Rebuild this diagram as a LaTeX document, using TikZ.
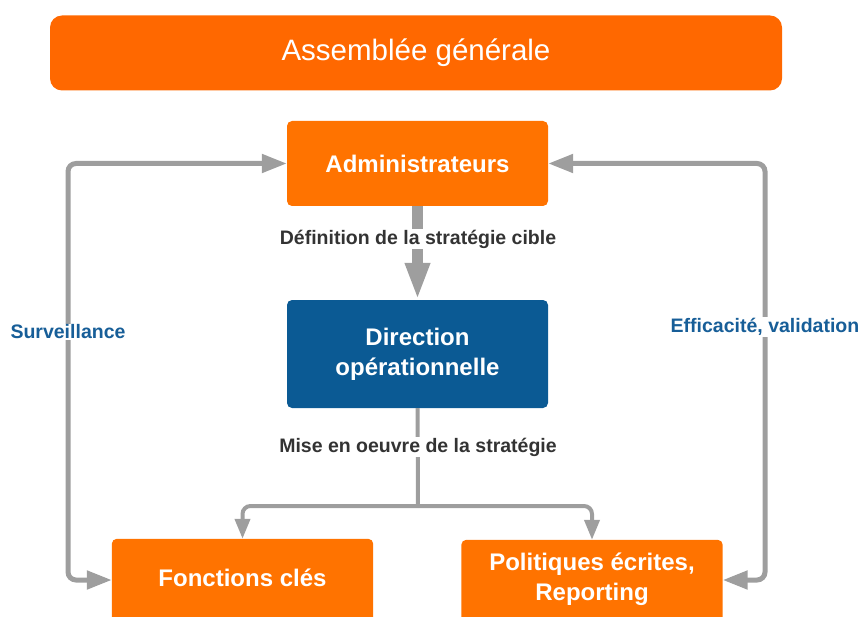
\documentclass[tikz,border=0pt]{standalone}
\usepackage{fontspec}
\setmainfont{Liberation Sans}
\usetikzlibrary{arrows.meta,backgrounds}
\definecolor{agorange}{HTML}{FF6800}
\definecolor{boxorange}{HTML}{FF7300}
\definecolor{dirblue}{HTML}{0B5A94}
\definecolor{lblblue}{HTML}{175E98}
\definecolor{linkgray}{HTML}{9E9E9E}
\definecolor{lbltext}{HTML}{333333}
\begin{document}
\begin{tikzpicture}[x=1pt,y=-1pt,line cap=butt,line join=miter,
		box/.style={fill=boxorange,text=white,rounded corners=5pt,minimum width=261pt,
			align=center,font=\bfseries\fontsize{24}{30}\selectfont},
		cutbox/.style={box,fill=none,minimum height=78pt},
		lbl/.style={fill=white,inner xsep=2pt,inner ysep=1pt,font=\bfseries\fontsize{19.5}{21}\selectfont},
		loopline/.style={draw=linkgray,line width=5pt,rounded corners=8pt,
			{Triangle[length=25pt,width=18pt]}-{Triangle[length=25pt,width=18pt]}},
		branch/.style={draw=linkgray,line width=4pt,rounded corners=8pt,
			-{Triangle[length=20pt,width=15pt]}},
		fat/.style={draw=linkgray,line width=11pt,-{Triangle[length=37pt,width=23pt]}}
	]
	\useasboundingbox (0,0) rectangle (861,617);
	% boxes
	\node[box,fill=agorange,rounded corners=12pt,minimum width=732pt,minimum height=75pt,
		font=\fontsize{29.5}{32}\selectfont] (ag) at (416,53) {Assemblée générale};
	\node[box,minimum height=85pt] (adm) at (417.5,163.5) {Administrateurs};
	\node[box,fill=dirblue,minimum height=108pt] (dir) at (417.5,354) {Direction\\opérationnelle};
	\node[cutbox] (fc) at (242.5,578) {Fonctions clés};
	\node[cutbox] (pe) at (592,579) {Politiques écrites,\\Reporting};
	\begin{scope}[on background layer]
		\fill[boxorange,rounded corners=5pt] (fc.north west) rectangle ([yshift=-15pt]fc.south east);
		\fill[boxorange,rounded corners=5pt] (pe.north west) rectangle ([yshift=-15pt]pe.south east);
	\end{scope}
	% links
	\coordinate (split) at (418,506);
	\coordinate (lb) at (68,580);
	\coordinate (rb) at (765,580);
	\draw[fat] (adm) -- (dir);
	\node[lbl,text=lbltext] (def) at (418,239) {Définition de la stratégie cible};
	\draw[linkgray,line width=4pt] (dir.south) -- (split);
	\draw[branch] (split) -| (fc.north);
	\draw[branch] (split) -| (pe.north);
	\node[lbl,text=lbltext] (mise) at (418,447) {Mise en oeuvre de la stratégie};
	\draw[loopline] (adm.west) -| (lb) -- (lb -| fc.west);
	\draw[loopline] (adm.east) -| (rb) -- (rb -| pe.east);
	\node[lbl,text=lblblue] (surv) at (68,332) {Surveillance};
	\node[lbl,text=lblblue,inner xsep=1pt] (eff) at (765,327) {Efficacité, validation};
\end{tikzpicture}
\end{document}
